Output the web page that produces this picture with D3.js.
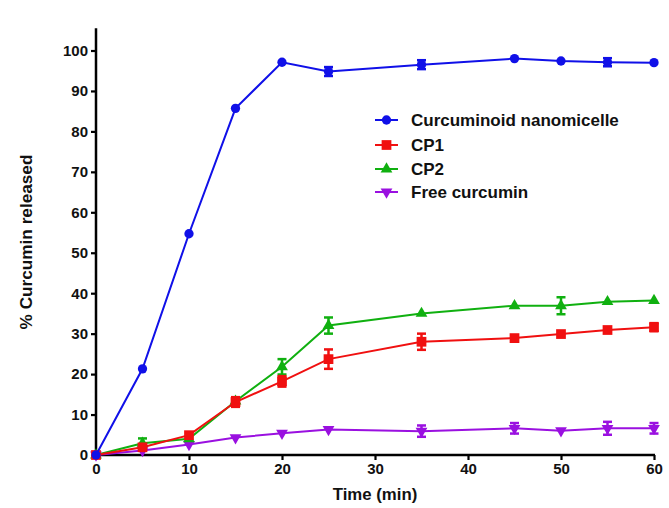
<!DOCTYPE html>
<html><head><meta charset="utf-8">
<script src="https://cdn.jsdelivr.net/npm/d3@7"></script>
<style>body{margin:0;background:#fff;}svg{display:block;font-family:"Liberation Sans",Arial,sans-serif;}</style>
</head><body><div id="chart"></div>
<script>
const times = [0, 5, 10, 15, 20, 25, 35, 45, 50, 55, 60];
const nanoVals = [0, 21.3, 54.7, 85.7, 97.1, 94.8, 96.5, 98.0, 97.4, 97.1, 97.0];
const nanoErr  = [0, 0.4, 0.4, 0.4, 0.4, 1.1, 1.1, 0.4, 0.4, 1.0, 0.4];
const cp1Vals = [0, 1.9, 4.9, 13.1, 18.2, 23.7, 28.0, 28.9, 29.9, 30.9, 31.6];
const cp1Err  = [0, 0.5, 0.5, 1.2, 1.3, 2.4, 2.0, 0.5, 0.5, 0.6, 1.0];
const cp2Vals = [0, 2.9, 4.0, 13.3, 21.8, 32.0, 35.0, 36.9, 36.9, 37.9, 38.2];
const cp2Err  = [0, 1.2, 0.5, 0.5, 1.9, 2.0, 0.4, 0.4, 2.1, 0.4, 0.4];
const freeVals = [0, 1.1, 2.6, 4.3, 5.4, 6.3, 5.9, 6.6, 6.0, 6.6, 6.6];
const freeErr  = [0, 0.3, 0.3, 0.3, 0.3, 0.3, 1.4, 1.3, 0.3, 1.6, 1.3];
const seriesNames = ["Curcuminoid nanomicelle", "CP1", "CP2", "Free curcumin"];
const seriesColors = ["#1010e8", "#f01010", "#10b010", "#9a10e0"];
const seriesShapes = ["circle", "square", "triangle", "down"];
const xTicks = [0, 10, 20, 30, 40, 50, 60];
const yTicks = [0, 10, 20, 30, 40, 50, 60, 70, 80, 90, 100];

const W = 669, H = 508;
const svg = d3.select("#chart").append("svg").attr("width", W).attr("height", H);

const x = d3.scaleLinear().domain([0, 60]).range([96, 654]);
const y = d3.scaleLinear().domain([0, 100]).range([455, 50.5]);

const allVals = [nanoVals, cp1Vals, cp2Vals, freeVals];
const allErr = [nanoErr, cp1Err, cp2Err, freeErr];

const symbolType = {
  circle: d3.symbolCircle, square: d3.symbolSquare,
  triangle: d3.symbolTriangle, down: d3.symbolTriangle
};
const symbolSize = {circle: 68, square: 95, triangle: 60, down: 60};

function marker(g, shape, color, cx, cy) {
  const p = g.append("path")
    .attr("d", d3.symbol().type(symbolType[shape]).size(symbolSize[shape])())
    .attr("fill", color);
  let t = `translate(${cx},${cy})`;
  if (shape === "down") t += " rotate(180)";
  p.attr("transform", t);
}

// axes
const yAxis = svg.append("g").attr("transform", "translate(96,0)")
  .call(d3.axisLeft(y).tickValues(yTicks).tickSize(5).tickPadding(3));
const xAxis = svg.append("g").attr("transform", "translate(0,455)")
  .call(d3.axisBottom(x).tickValues(xTicks).tickSize(5).tickPadding(3));
[yAxis, xAxis].forEach(a => {
  a.select(".domain").remove();
  a.selectAll(".tick line").attr("stroke", "#000").attr("stroke-width", 2.2);
  a.selectAll(".tick text").attr("fill", "#111").attr("font-size", 15).attr("font-weight", "bold")
    .attr("font-family", "'Liberation Sans', Arial, sans-serif");
});
svg.append("line").attr("x1", 96).attr("x2", 96).attr("y1", y(105.5)).attr("y2", 456.2)
  .attr("stroke", "#000").attr("stroke-width", 2.5);
svg.append("line").attr("x1", 94.8).attr("x2", x(60) + 1).attr("y1", 455).attr("y2", 455)
  .attr("stroke", "#000").attr("stroke-width", 2.5);

// series (draw last series first so blue on top)
const line = d3.line().x(d => x(d[0])).y(d => y(d[1]));
for (let s = 3; s >= 0; s--) {
  const color = seriesColors[s];
  const g = svg.append("g");
  const pts = times.map((t, i) => [t, allVals[s][i], allErr[s][i]]);
  g.append("path").datum(pts).attr("d", line).attr("fill", "none")
    .attr("stroke", color).attr("stroke-width", 2);
  pts.forEach(p => {
    if (p[2] > 0.6) {
      const cx = x(p[0]), y1 = y(p[1] + p[2]), y2 = y(p[1] - p[2]);
      g.append("line").attr("x1", cx).attr("x2", cx).attr("y1", y1).attr("y2", y2)
        .attr("stroke", color).attr("stroke-width", 2.5);
      [y1, y2].forEach(yy => g.append("line").attr("x1", cx - 4.5).attr("x2", cx + 4.5)
        .attr("y1", yy).attr("y2", yy).attr("stroke", color).attr("stroke-width", 2.5));
    }
    marker(g, seriesShapes[s], color, x(p[0]), y(p[1]));
  });
}

// legend
const lg = svg.append("g");
const legendY = [120, 145, 169, 192];
seriesNames.forEach((n, i) => {
  const yy = legendY[i];
  lg.append("line").attr("x1", 375).attr("x2", 398).attr("y1", yy).attr("y2", yy)
    .attr("stroke", seriesColors[i]).attr("stroke-width", 2);
  marker(lg, seriesShapes[i], seriesColors[i], 386.5, yy);
  lg.append("text").attr("x", 411).attr("y", yy + 6).text(n)
    .attr("font-size", 17).attr("font-weight", "bold").attr("fill", "#111");
});

// axis titles
svg.append("text").attr("x", 375).attr("y", 500).attr("text-anchor", "middle")
  .attr("font-size", 16.8).attr("font-weight", "bold").attr("fill", "#111").text("Time (min)");
svg.append("text").attr("transform", "translate(32,242) rotate(-90)").attr("text-anchor", "middle")
  .attr("font-size", 17.2).attr("font-weight", "bold").attr("fill", "#111").text("% Curcumin released");
</script></body></html>
